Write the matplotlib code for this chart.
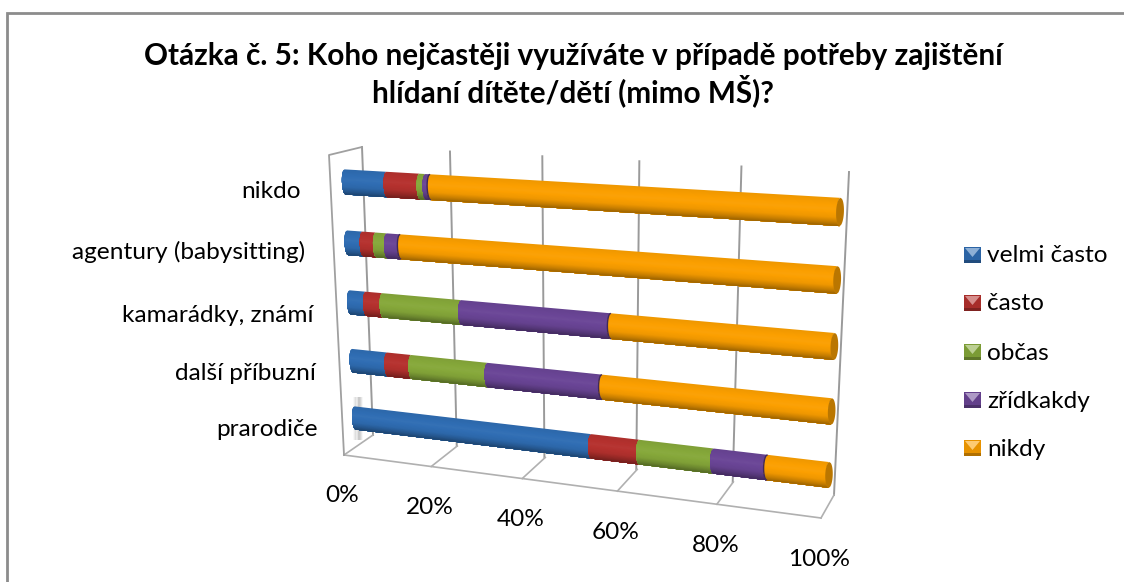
import matplotlib
matplotlib.use('Agg')
import matplotlib.pyplot as plt
import numpy as np
from matplotlib.transforms import Transform

plt.rcParams['font.family'] = ['Lato', 'DejaVu Sans']

titleText = 'Otázka č. 5: Koho nejčastěji využíváte v případě potřeby zajištění\nhlídaní dítěte/dětí (mimo MŠ)?'
categories = ['prarodiče', 'další příbuzní', 'kamarádky, známí', 'agentury (babysitting)', 'nikdo']
seriesNames = ['velmi často', 'často', 'občas', 'zřídkakdy', 'nikdy']
velmiCasto = [52, 7.4, 3, 2.8, 8.7]
casto = [10, 5.5, 3.8, 3, 7.3]
obcas = [15, 17, 17.6, 2.5, 1.3]
zridkakdy = [10.5, 24.3, 31.6, 3, 1]
nikdy = [12.5, 45.8, 44, 88.7, 81.7]
xTicks = [0, 20, 40, 60, 80, 100]
xTickLabels = ['0%', '20%', '40%', '60%', '80%', '100%']

seriesValues = [velmiCasto, casto, obcas, zridkakdy, nikdy]
seriesColors = ['#2F6DB3', '#B5312E', '#86A83A', '#6A4596', '#FB9F00']
GRID = '#9a9a9a'
W, H = 1124, 582


def solveH(src, dst):
    # homography from 4 point pairs
    A, b = [], []
    for (x, y), (u, v) in zip(src, dst):
        A.append([x, y, 1, 0, 0, 0, -u * x, -u * y])
        A.append([0, 0, 0, x, y, 1, -v * x, -v * y])
        b += [u, v]
    return np.append(np.linalg.solve(np.array(A, float), np.array(b, float)), 1).reshape(3, 3)


class Perspective(Transform):
    input_dims = 2
    output_dims = 2

    def __init__(self, src, dst):
        super().__init__()
        self.m = solveH(src, dst)

    def transform_non_affine(self, values):
        pts = np.column_stack([values, np.ones(len(values))]) @ self.m.T
        return pts[:, :2] / pts[:, 2:]


class FloorMap(Transform):
    # the floor does not fit one homography: its edges narrow the other way
    input_dims = 2
    output_dims = 2

    def __init__(self, corners, c):
        super().__init__()
        self.corners = np.array(corners, float)
        self.c = c

    def transform_non_affine(self, values):
        values = np.asarray(values, float)
        t = values[:, 0] / 100
        d = values[:, 1:]
        f = (t * (1 - self.c) / (1 - self.c * t))[:, None]
        p00, p10, p11, p01 = self.corners
        return (p00 + (p10 - p00) * f) * (1 - d) + (p01 + (p11 - p01) * f) * d


fig = plt.figure(figsize=(W / 100, H / 100), dpi=100)
ax = fig.add_axes([0, 0, 1, 1])
ax.set_xlim(0, W)
ax.set_ylim(H, 0)
ax.axis('off')

# planes of the 3d box, all in screen pixels of the axes
barPlane = Perspective([(0, 0), (100, 0), (100, 4), (0, 4)], [(355, 418), (829, 475), (840, 212), (345, 182)])
backWall = Perspective([(0, 0), (100, 0), (100, 1), (0, 1)], [(373, 435), (834, 495), (849, 172), (362, 147)])
floor = FloorMap([(344, 455), (821, 518), (834, 495), (373, 435)], 0.105)
sideWall = Perspective([(0, 0), (1, 0), (1, 1), (0, 1)], [(344, 455), (373, 435), (362, 147), (329, 155)])

# chart frame
ax.plot([7, 7, W], [H, 13, 13], color='#8c8c8c', lw=2, solid_joinstyle='miter')

# walls and grid
for t in xTicks:
    ax.plot([t, t], [0, 1], color=GRID, lw=1.4, transform=backWall + ax.transData)
    ax.plot([t, t], [0, 1], color='#b0b0b0', lw=1.2, transform=floor + ax.transData)
ax.plot(np.linspace(0, 100, 11), np.zeros(11), color='#b0b0b0', lw=1.2, transform=floor + ax.transData)
ax.plot([0, 0, 1], [0, 1, 1], color='#a0a0a0', lw=1.3, transform=sideWall + ax.transData)

# grey smudge behind the first cap
for i, a in enumerate([0.05, 0.1, 0.16, 0.22, 0.25, 0.22, 0.14, 0.06]):
    ax.plot([354 + i * 1.2] * 2, [397, 440], color='#808080', alpha=a, lw=1.2, solid_capstyle='butt', antialiased=False)


def shade(color, s):
    c = np.array(matplotlib.colors.to_rgb(color))
    return c * s if s <= 1 else c + (1 - c) * (s - 1)


HALF = 0.205
ARC = 0.7
strips = np.linspace(1, -1, 31)
tr = barPlane + ax.transData


def arc(s):
    return ARC * np.sqrt(np.clip(1 - s ** 2, 0, 1))


def drawSegment(v0, v1, row, color, first, last):
    # strips painted top to bottom, each one covers all that is below it
    for i in range(len(strips) - 1):
        s = strips[i:]
        mid = (strips[i] + strips[i + 1]) / 2
        k = np.interp(mid, [-1, -0.75, -0.4, 0.2, 1], [0.62, 0.78, 0.95, 1.03, 0.95])
        left = v0 - arc(s) if first else v0 + ARC - arc(s)
        right = v1 - arc(s) if last else v1 + ARC - arc(s)
        ax.fill(np.r_[left, right[::-1]], np.r_[row + s * HALF, row + s[::-1] * HALF],
                color=shade(color, k), lw=0, transform=tr, zorder=10)
    if last:
        s = np.linspace(-1, 1, 30)
        ax.fill(np.r_[v1 - arc(s), (v1 + arc(s))[::-1]], np.r_[row + s * HALF, row + s[::-1] * HALF],
                color=shade(color, 0.74), lw=0, transform=tr, zorder=11)


for row in range(len(categories)):
    vals = [s[row] for s in seriesValues]
    starts = np.r_[0, np.cumsum(vals)[:-1]]
    for j in range(len(vals)):
        drawSegment(starts[j], starts[j] + vals[j], row, seriesColors[j], j == 0, j == len(vals) - 1)
        if j == 3:
            # dark rim where purple meets orange
            s = np.linspace(-1, 1, 30)
            ax.plot(starts[j] + vals[j] + ARC - arc(s), row + s * HALF, color=shade(seriesColors[j], 0.6), lw=1.0,
                    transform=tr, zorder=12, solid_capstyle='butt')

# axis text
labelX = [318, 316, 313, 305, 301]
labelY = [430, 374, 315, 252, 192]
for name, x, y in zip(categories, labelX, labelY):
    ax.text(x, y, name, ha='right', va='center', fontsize=17.6, color='black')
for t, lab in zip(xTicks, xTickLabels):
    px, py = floor.transform((t, 0))
    ax.text(px - 1.5, py + 41, lab, ha='center', va='center', fontsize=17.6, color='black')

ax.text(573, 75, titleText, ha='center', va='center', fontsize=21.4, fontweight='bold',
        color='black', linespacing=1.15)

# legend with the bevelled swatches
legendY = [255, 303, 352, 400, 448]
for name, color, y in zip(seriesNames, seriesColors, legendY):
    x0, x1, y0, y1 = 964, 981, y - 8, y + 8
    mx, my = (x0 + x1) / 2, y + 2
    ax.fill([x0, x1, x1, x0], [y0, y0, y1, y1], color=shade(color, 0.92), lw=0)
    ax.fill([x0 + 1, x1 - 1, mx], [y0 + 1, y0 + 1, my], color=shade(color, 1.45), lw=0)
    ax.fill([x0, x1, x1, x0], [y1 - 3, y1 - 3, y1, y1], color=shade(color, 0.7), lw=0)
    ax.text(987, y + 1, name, ha='left', va='center', fontsize=17.6, color='black')

fig.savefig('out.png', dpi=100, facecolor='white')
